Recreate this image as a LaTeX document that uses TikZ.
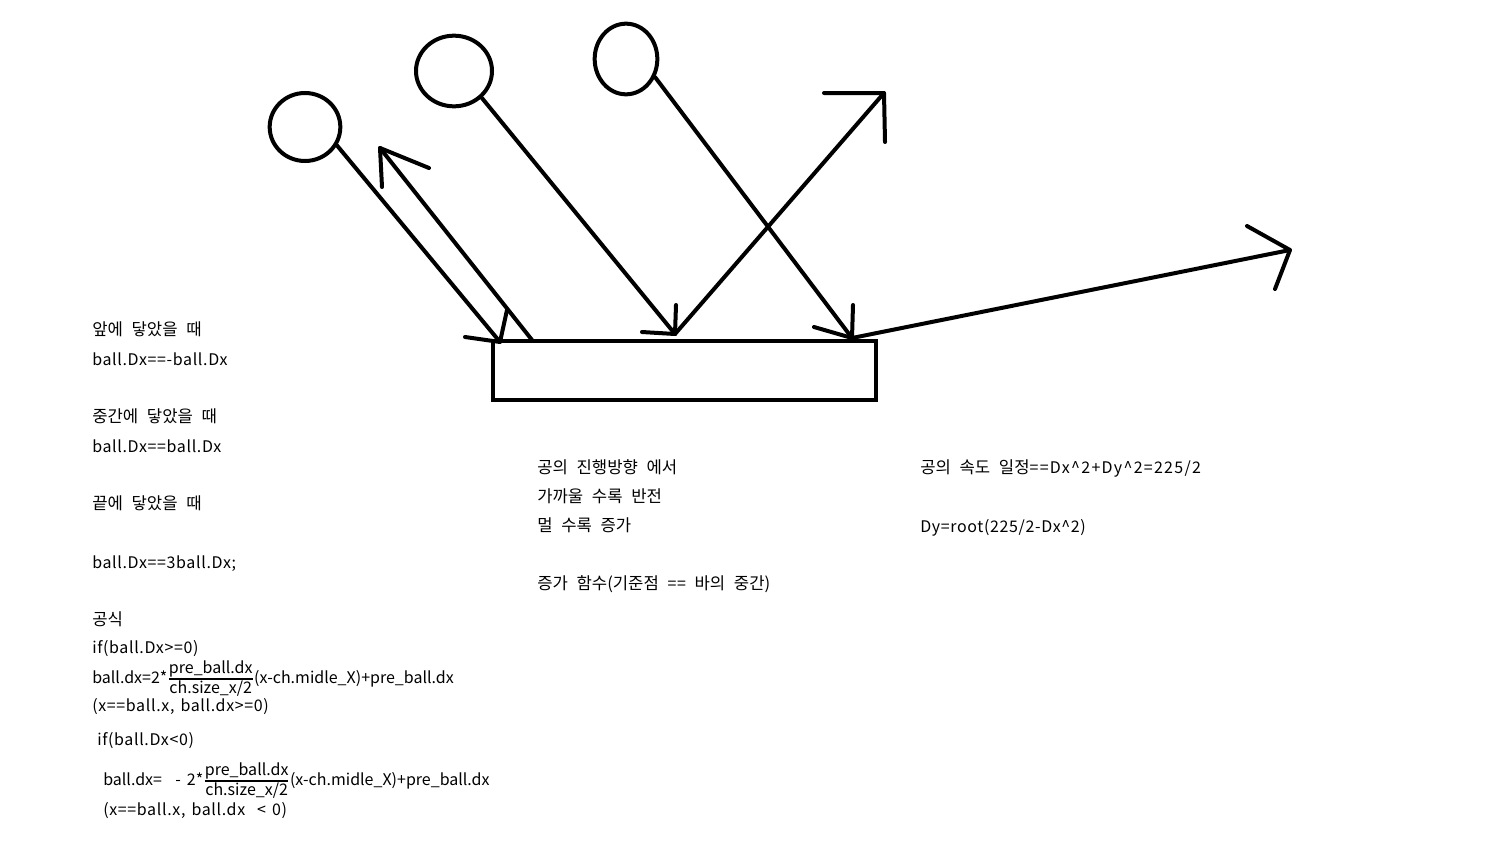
\documentclass[tikz,border=0pt]{standalone}
\usepackage{amsmath}
\usepackage{fontspec}
\setmainfont{Noto Sans CJK KR}
\usetikzlibrary{shapes.geometric}
\newcommand{\latfont}{\fontsize{12}{15}\selectfont\spaceskip=4.5pt}
\newcommand{\latwide}{\fontsize{12}{15}\selectfont\addfontfeatures{LetterSpace=4}\spaceskip=4.5pt}
\newcommand{\korfont}{\fontsize{12.5}{15}\selectfont\spaceskip=6.5pt}
\tikzset{
  stroke/.style={line width=3pt, line cap=round, line join=round},
  ballnode/.style={ellipse, draw, line width=3pt, inner sep=0pt},
  txt/.style={anchor=base west, inner sep=0pt, font=\latfont},
  wtxt/.style={anchor=base west, inner sep=0pt, font=\latwide},
  ktxt/.style={anchor=base west, inner sep=0pt, font=\korfont},
}
\newcommand{\myfrac}[2]{$\genfrac{}{}{1pt}{1}{\mbox{#1}}{\mbox{#2}}$}
\begin{document}
\begin{tikzpicture}[x=0.75pt,y=-0.75pt]
\useasboundingbox (0,0) rectangle (1495,846);
% balls
\node[ballnode, minimum width=53pt, minimum height=51pt] (b1) at (305,127) {};
\node[ballnode, minimum width=57pt, minimum height=53pt] (b2) at (454,71) {};
\node[ballnode, minimum width=47pt, minimum height=53pt] (b3) at (626,59) {};
% bar
\node[draw, rectangle, line width=3pt, minimum width=287.6pt, minimum height=43.9pt, inner sep=0pt] (bar) at (684.25,370.25) {};
% tips and heads
\coordinate (t1) at (500,342);
\coordinate (t2) at (675,334);
\coordinate (t3) at (852,338);
\coordinate (r1) at (532,340);
\coordinate (h1) at (380,148);
\coordinate (h2) at (884,93);
\coordinate (h3) at (1290,250);
% barb ends
\coordinate (t1a) at (465,337); \coordinate (t1b) at (507,310);
\coordinate (t2a) at (642,332); \coordinate (t2b) at (676,305);
\coordinate (t3a) at (814,327); \coordinate (t3b) at (853,305);
\coordinate (h1a) at (382,187); \coordinate (h1b) at (429,168);
\coordinate (h2a) at (824,93);  \coordinate (h2b) at (885,142);
\coordinate (h3a) at (1247,226); \coordinate (h3b) at (1275,289);
% incoming arrows
\draw[stroke] (b1.-30) -- (t1);
\draw[stroke] (t1a) -- (t1) -- (t1b);
\draw[stroke] (b2.-44) -- (t2);
\draw[stroke] (t2a) -- (t2) -- (t2b);
\draw[stroke] (b3.-32) -- (t3);
\draw[stroke] (t3a) -- (t3) -- (t3b);
% reflected arrows
\draw[stroke] (r1) -- (h1);
\draw[stroke] (h1a) -- (h1) -- (h1b);
\draw[stroke] (t2) -- (h2);
\draw[stroke] (h2a) -- (h2) -- (h2b);
\draw[stroke] (t3) -- (h3);
\draw[stroke] (h3a) -- (h3) -- (h3b);
% left text
\node[ktxt] (l1) at (92,335) {앞에 닿았을 때};
\node[wtxt] (l2) at (92,365) {ball.Dx==-ball.Dx};
\node[ktxt] (l3) at (92,422) {중간에 닿았을 때};
\node[wtxt] (l4) at (92,452) {ball.Dx==ball.Dx};
\node[ktxt] (l5) at (92,509) {끝에 닿았을 때};
\node[wtxt] (l6) at (92,568) {ball.Dx==3ball.Dx;};
\node[ktxt] (l7) at (92,625) {공식};
\node[wtxt] (l8) at (92,653) {if(ball.Dx>=0)};
\node[txt] (l9) at (92,683) {ball.dx=2*\myfrac{pre\_ball.dx}{ch.size\_x/2}(x-ch.midle\_X)+pre\_ball.dx};
\node[wtxt] (l10) at (92,711) {(x==ball.x,\ ball.dx>=0)};
\node[wtxt] (l11) at (97,745) {if(ball.Dx<0)};
\node[txt] (l12) at (103,785) {ball.dx=\hspace{10pt}- 2*\myfrac{pre\_ball.dx}{ch.size\_x/2}(x-ch.midle\_X)+pre\_ball.dx};
\node[wtxt] (l13) at (103,815) {(x==ball.x, ball.dx\ \ < 0)};
% middle text
\node[ktxt] (m1) at (537,473) {공의 진행방향 에서};
\node[ktxt] (m2) at (537,502) {가까울 수록 반전};
\node[ktxt] (m3) at (537,531) {멀 수록 증가};
\node[ktxt] (m4) at (537,589) {증가 함수(기준점 {\latwide==} 바의 중간)};
% right text
\node[ktxt] (r1t) at (920,473) {공의 속도 일정{\latfont\addfontfeatures{LetterSpace=8}==Dx\textasciicircum 2+Dy\textasciicircum 2=225/2}};
\node[wtxt] (r2t) at (920,532) {Dy=root(225/2-Dx\textasciicircum 2)};
\end{tikzpicture}
\end{document}
